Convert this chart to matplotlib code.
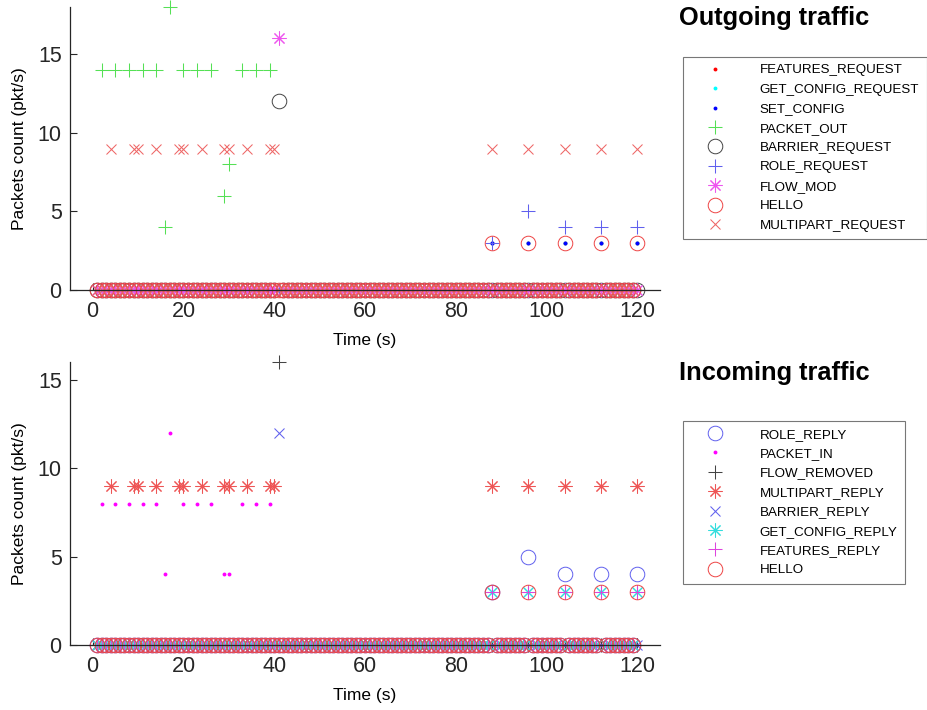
"""OpenFlow control traffic per message type, outgoing and incoming."""

import matplotlib

matplotlib.use("Agg")
import matplotlib.pyplot as plt
import numpy as np

plt.rcParams["font.family"] = ["Liberation Sans", "DejaVu Sans"]

TIME = np.arange(1, 121)
LATE = [88, 96, 104, 112, 120]

# outgoing: times and values of the non-zero samples; zero elsewhere
PKT_OUT_T = [2, 5, 8, 11, 14, 16, 17, 20, 23, 26, 29, 30, 33, 36, 39]
PKT_OUT_V = [14, 14, 14, 14, 14, 4, 18, 14, 14, 14, 6, 8, 14, 14, 14]
MP_REQ_T = [4, 9, 10, 14, 19, 20, 24, 29, 30, 34, 39, 40] + LATE
MP_REQ_V = [9] * 17
ROLE_REQ_V = [3, 5, 4, 4, 4]
LATE_3 = [3, 3, 3, 3, 3]

# incoming
PKT_IN_T = [2, 5, 8, 11, 14, 16, 17, 20, 23, 26, 29, 30, 33, 36, 39]
PKT_IN_V = [8, 8, 8, 8, 8, 4, 12, 8, 8, 8, 4, 4, 8, 8, 8]
MP_REP_T = [4, 9, 10, 14, 19, 20, 24, 29, 30, 34, 39, 40] + LATE
MP_REP_V = [9] * 17
ROLE_REP_V = [3, 5, 4, 4, 4]

ASTER = (8, 2, 0)  # matlab-style '*' (spokes, not a filled star)


def series(times, values):
    y = np.zeros(TIME.size)
    y[np.asarray(times) - 1] = values
    return y


def dot(color):
    return dict(marker="o", color=color, ms=2.8, mew=0)


def line_mark(marker, color, ms=10):
    return dict(marker=marker, color=color, ms=ms, mew=0.75)


def ring(color):
    return dict(marker="o", mfc="none", mec=color, ms=10.5, mew=0.7)


OUTGOING = [
    ("FEATURES_REQUEST", series(LATE, LATE_3), dot("red")),
    ("GET_CONFIG_REQUEST", series(LATE, LATE_3), dot("cyan")),
    ("SET_CONFIG", series(LATE, LATE_3), dot("blue")),
    ("PACKET_OUT", series(PKT_OUT_T, PKT_OUT_V), line_mark("+", "#55e055")),
    ("BARRIER_REQUEST", series([41], [12]), ring("#444444")),
    ("ROLE_REQUEST", series(LATE, ROLE_REQ_V), line_mark("+", "#6060ee")),
    ("FLOW_MOD", series([41], [16]), line_mark(ASTER, "#ee55ee", 10)),
    ("HELLO", series(LATE, LATE_3), ring("#ee4444")),
    ("MULTIPART_REQUEST", series(MP_REQ_T, MP_REQ_V), line_mark("x", "#ee6666", 7.5)),
]

INCOMING = [
    ("ROLE_REPLY", series(LATE, ROLE_REP_V), ring("#6060ee")),
    ("PACKET_IN", series(PKT_IN_T, PKT_IN_V), dot("magenta")),
    ("FLOW_REMOVED", series([41], [16]), line_mark("+", "#444444")),
    ("MULTIPART_REPLY", series(MP_REP_T, MP_REP_V), line_mark(ASTER, "#ee5555")),
    ("BARRIER_REPLY", series([41], [12]), line_mark("x", "#6060ee", 7.5)),
    ("GET_CONFIG_REPLY", series(LATE, LATE_3), line_mark(ASTER, "#33dddd")),
    ("FEATURES_REPLY", series(LATE, LATE_3), line_mark("+", "#dd44dd")),
    ("HELLO", series(LATE, LATE_3), ring("#ee4444")),
]


def panel(fig, rect, groups, ymax, title, title_y, legend_top):
    ax = fig.add_axes(rect)
    handles = []
    for label, y, style in groups:
        (h,) = ax.plot(TIME, y, linestyle="none", label=label, clip_on=False, **style)
        handles.append(h)
    ax.set_xlim(-5, 125)
    ax.set_ylim(0, ymax)
    ax.set_xticks(range(0, 121, 20))
    ax.set_yticks([0, 5, 10, 15])
    for side in ("top", "right"):
        ax.spines[side].set_visible(False)
    for side in ("left", "bottom"):
        ax.spines[side].set_color("#262626")
        ax.spines[side].set_linewidth(0.9)
    ax.tick_params(direction="in", length=5, width=0.8, labelsize=15.5, colors="#262626")
    ax.tick_params(axis="x", pad=8)
    ax.tick_params(axis="y", pad=6)
    ax.set_xlabel("Time (s)", fontsize=12.5, labelpad=8)
    ax.set_ylabel("Packets count (pkt/s)", fontsize=12.5, labelpad=8)
    fig.text(0.732, title_y, title, fontsize=18.3, fontweight="bold", va="center")
    leg = fig.legend(handles=handles, loc="upper left", bbox_to_anchor=(0.737, legend_top),
                     fontsize=9.6, frameon=True, fancybox=False, edgecolor="#555555",
                     handlelength=3.6, handletextpad=1.6, borderpad=0.55,
                     labelspacing=0.53, borderaxespad=0)
    leg.get_frame().set_linewidth(0.8)
    return ax


fig = plt.figure(figsize=(9.27, 7.10), dpi=100)
panel(fig, [0.0755, 0.5915, 0.6365, 0.3986], OUTGOING, 18,
      "Outgoing traffic", 0.974, 0.92)
panel(fig, [0.0755, 0.0915, 0.6365, 0.3986], INCOMING, 16,
      "Incoming traffic", 0.474, 0.407)
fig.savefig("out.png", dpi=100)
